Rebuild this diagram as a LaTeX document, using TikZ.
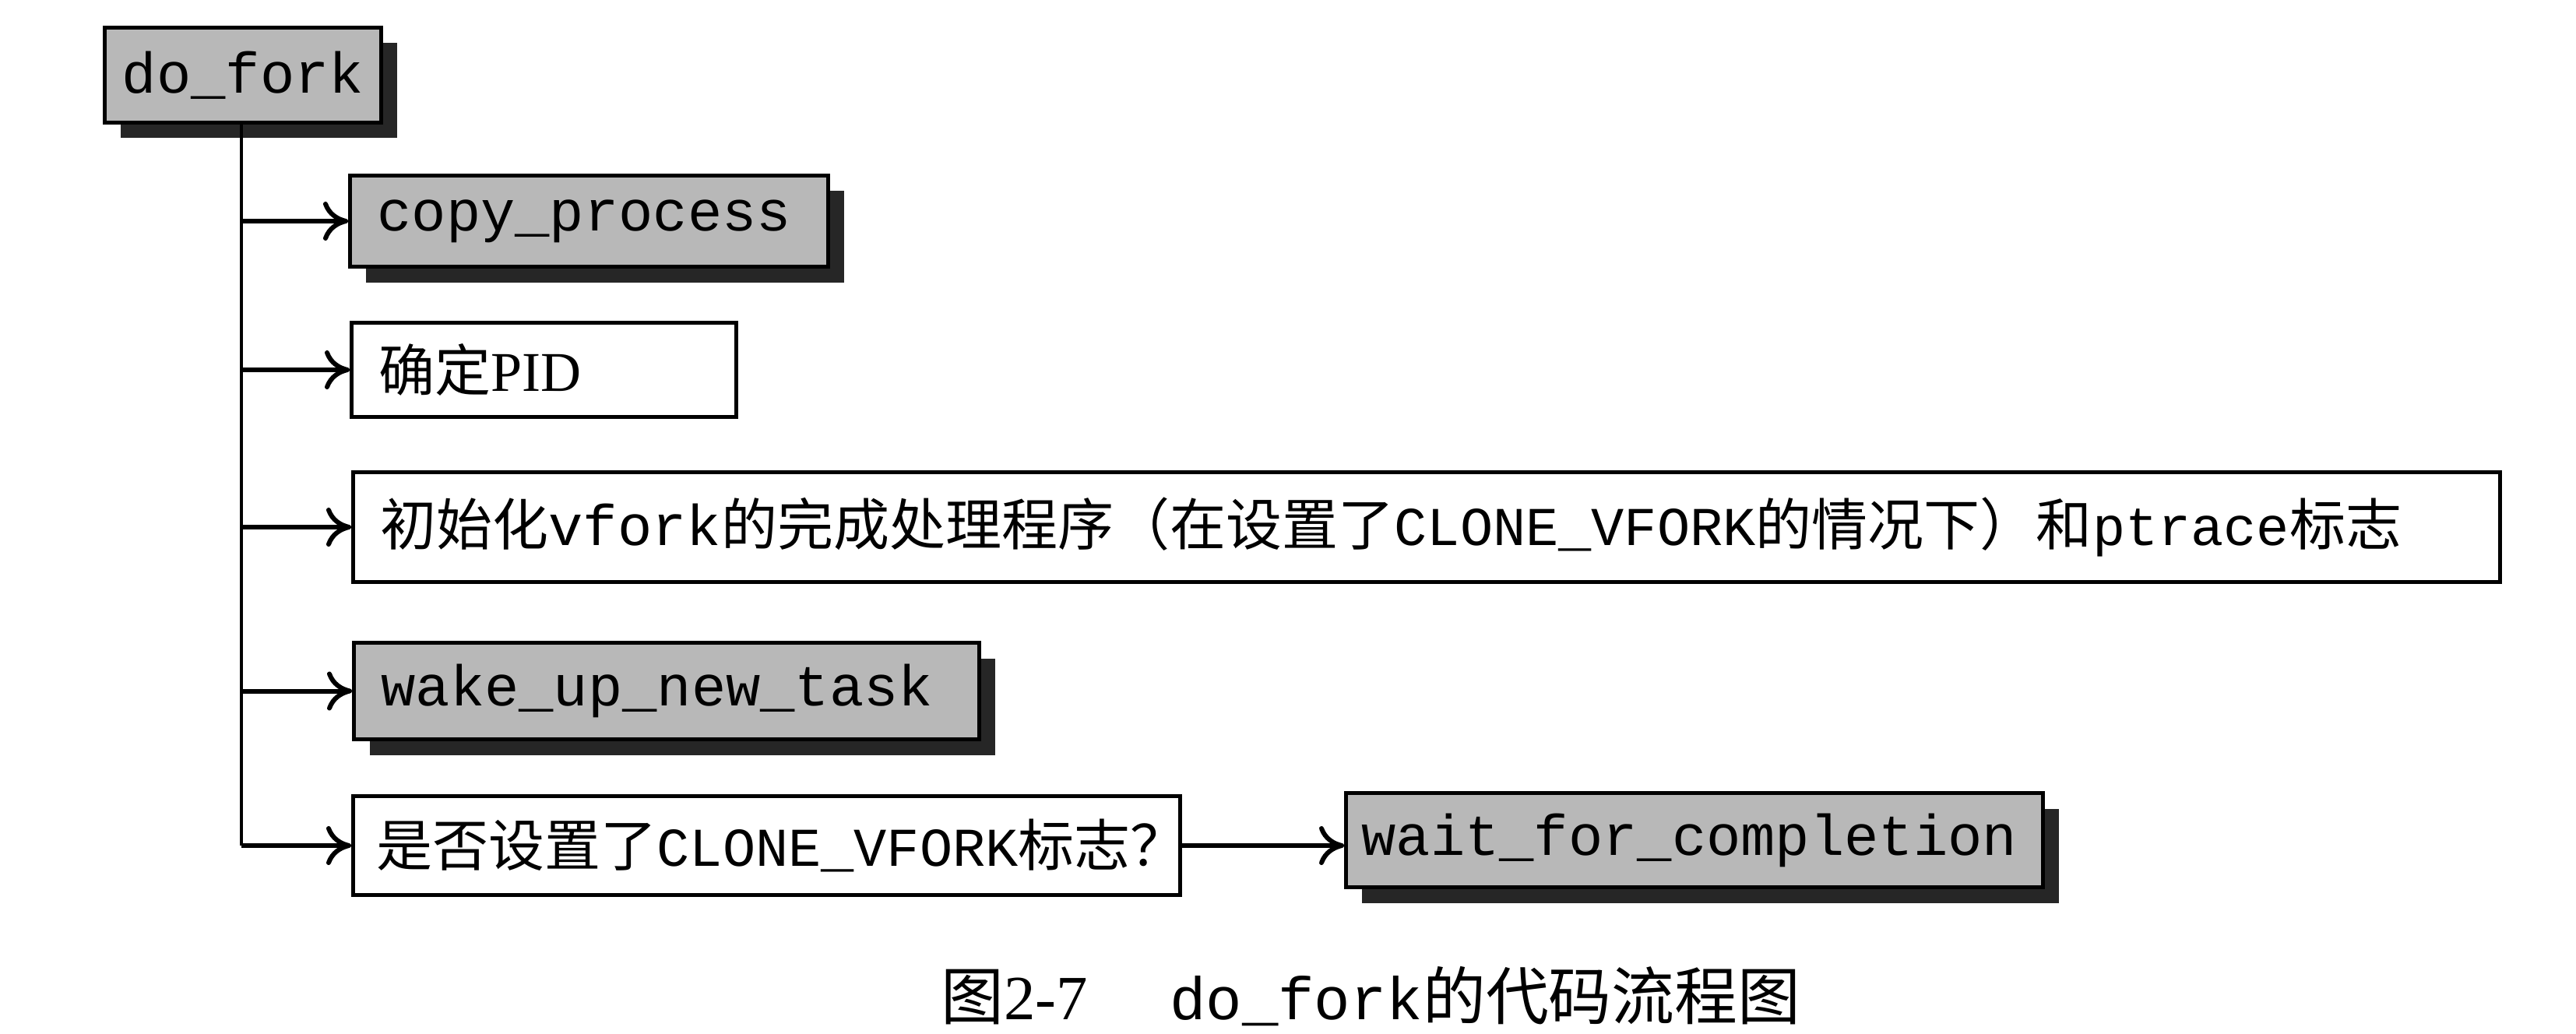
\documentclass[tikz,border=0pt]{standalone}
\usepackage{fontspec}
\setmainfont{Liberation Serif}
\setmonofont{Liberation Mono}
\newfontfamily\cjk{Noto Sans CJK SC}
\usetikzlibrary{arrows.meta,shadows}
\begin{document}
\begin{tikzpicture}[
  every node/.style={font=\fontsize{20.5pt}{24pt}\selectfont},
  boxbase/.style={draw=black, line width=0.05cm, anchor=north west, inner ysep=0pt, inner xsep=0.35cm, align=left},
  graybox/.style={boxbase, fill=black!28, drop shadow={shadow xshift=0.2cm, shadow yshift=-0.2cm, fill=black!85, opacity=1}},
  whitebox/.style={boxbase, fill=white},
  mono/.style={font=\fontsize{21pt}{24pt}\selectfont\ttfamily},
  arr/.style={-{Computer Modern Rightarrow[length=0.32cm,width=0.5cm]}, line width=0.06cm},
  trunkline/.style={line width=0.045cm}
]
\useasboundingbox[fill=white] (0,0) rectangle (33.08,-13.28);

\node[graybox, mono, inner xsep=0.1cm, text width=3.35cm, align=center, minimum height=1.22cm] (dofork) at (1.32,-0.33) {do\_fork};
\node[graybox, mono, text width=5.44cm, minimum height=1.17cm] (copy) at (4.47,-2.23) {copy\_process};
\node[whitebox, text width=4.24cm, minimum height=1.21cm] (pid) at (4.49,-4.12) {{\cjk 确定}PID};
\node[whitebox, text width=26.87cm, minimum height=1.41cm] (init) at (4.51,-6.04)
  {{\cjk 初始化}{\fontsize{21pt}{24pt}\selectfont\ttfamily vfork}{\cjk 的完成处理程序（在设置了}{\fontsize{20pt}{24pt}\selectfont\ttfamily CLONE\_VFORK}{\cjk 的情况下）和}{\fontsize{20pt}{24pt}\selectfont\ttfamily ptrace}{\cjk 标志}};
\node[graybox, mono, text width=7.33cm, minimum height=1.24cm] (wake) at (4.52,-8.23) {wake\_up\_new\_task};
\node[whitebox, inner xsep=0.3cm, text width=10.02cm, minimum height=1.27cm] (vfork) at (4.51,-10.20)
  {{\cjk 是否设置了}{\fontsize{20pt}{24pt}\selectfont\ttfamily CLONE\_VFORK}{\cjk 标志？}};
\node[graybox, mono, inner xsep=0.2cm, text width=8.55cm, minimum height=1.21cm] (wait) at (17.26,-10.16) {wait\_for\_completion};

\coordinate (trunk) at (3.10,0);
\draw[trunkline] (trunk |- dofork.south) -- (trunk |- vfork.west);
\draw[arr] (trunk |- copy.west) -- (copy.west);
\draw[arr] (trunk |- pid.west) -- (pid.west);
\draw[arr] (trunk |- init.west) -- (init.west);
\draw[arr] (trunk |- wake.west) -- (wake.west);
\draw[arr] (trunk |- vfork.west) -- (vfork.west);
\draw[arr] (vfork.east) -- (vfork.east -| wait.west);

\node[anchor=west, inner sep=0pt, font=\fontsize{23pt}{26pt}\selectfont] (caption) at (12.08,-12.80)
  {{\cjk 图}2-7\hspace{1.3em}{\fontsize{22pt}{26pt}\selectfont\ttfamily do\_fork}{\cjk 的代码流程图}};
\end{tikzpicture}
\end{document}
